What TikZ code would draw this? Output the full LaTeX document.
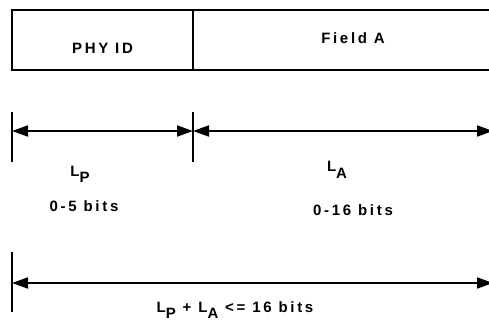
\documentclass[tikz,border=0pt]{standalone}
\usepackage{fontspec}
\setmainfont{Liberation Sans}
\usetikzlibrary{arrows.meta,positioning}

\begin{document}
\begin{tikzpicture}[x=1pt,y=1pt,line width=1.8pt,
every node/.style={font=\bfseries\fontsize{15}{18}\selectfont\addfontfeature{LetterSpace=18},inner sep=0pt,outer sep=0pt},
field/.style={draw,minimum height=60pt,text depth=0pt},
dim/.style={{Triangle[length=16pt,width=11pt]}-{Triangle[length=16pt,width=11pt]}}]
\clip (0,0) rectangle (489,-323);

\node[field,minimum width=181pt,text height=26.8pt,anchor=north west] (phy) at (12,-10) {PHY ID};
\node[field,minimum width=320pt,text height=6.8pt,right=0pt of phy] (fielda) {Field A};

% lengths of the two fields
\coordinate (tp1) at ([yshift=-42pt]phy.south west);
\coordinate (tp2) at ([yshift=-92pt]phy.south west);
\coordinate (tm1) at ([yshift=-42pt]phy.south east);
\coordinate (tm2) at ([yshift=-92pt]phy.south east);
\coordinate (lp) at ([yshift=-61pt]phy.south west);
\coordinate (mp) at ([yshift=-61pt]phy.south east);
\coordinate (ra) at (493,-131);
\draw (tp1) -- (tp2);
\draw (tm1) -- (tm2);
\draw[dim] (lp) -- (mp);
\draw[dim] (mp) -- (ra);

\node (lenp)  at (80,-174)  {L\raisebox{-6pt}{P}};
\node (bitsp) at (84,-206)  {0-5 bits};
\node (lena)  at (337,-170) {L\raisebox{-7pt}{A}};
\node (bitsa) at (353,-210) {0-16 bits};

% total length
\coordinate (bt1) at (12,-252);
\coordinate (bt2) at (12,-312);
\coordinate (bl) at (12,-283);
\coordinate (br) at (493,-283);
\draw (bt1) -- (bt2);
\draw[dim] (bl) -- (br);
\node (total) at (235,-310) {L\raisebox{-6pt}{P} + L\raisebox{-6pt}{A} <= 16 bits};
\end{tikzpicture}
\end{document}
